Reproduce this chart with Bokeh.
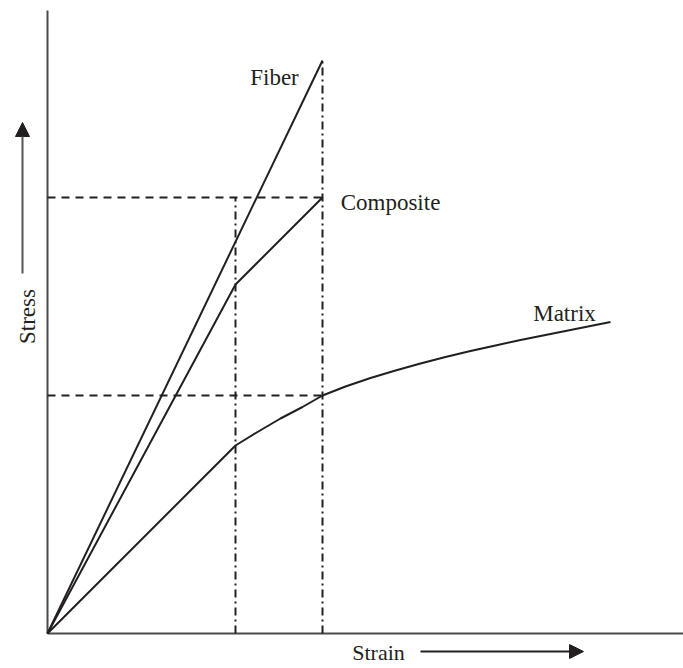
from bokeh.plotting import figure
from bokeh.models import Arrow, NormalHead
from bokeh.core.properties import value
from bokeh.embed import file_html
from bokeh.resources import INLINE
import math

# ---- data (arbitrary strain / stress units) ----
fiber_strain = [0.0, 2.75]
fiber_stress = [0.0, 5.73]

composite_strain = [0.0, 1.88, 2.75]
composite_stress = [0.0, 3.49, 4.36]

matrix_strain = [0.0, 1.88, 2.10, 2.33, 2.55, 2.75, 2.98, 3.23, 3.48, 3.73, 3.98,
                 4.23, 4.48, 4.73, 4.98, 5.23, 5.43, 5.63]
matrix_stress = [0.0, 1.88, 2.015, 2.15, 2.265, 2.38, 2.47, 2.555, 2.63, 2.70, 2.765,
                 2.825, 2.88, 2.935, 2.985, 3.035, 3.075, 3.115]

kink_strain = 1.88          # matrix yield strain
fail_strain = 2.75          # fiber failure strain
composite_peak = 4.36       # composite strength
matrix_at_fail = 2.38       # matrix stress at fiber failure
fiber_peak = 5.73

labels = ["Fiber", "Composite", "Matrix"]
label_x = [2.27, 3.43, 5.17]
label_y = [5.56, 4.31, 3.20]

INK = "#231f20"
FONT = "Liberation Serif"

p = figure(width=683, height=668, x_range=(-0.47, 6.36), y_range=(-0.35, 6.33),
           output_backend="svg", toolbar_location=None, min_border=0)
p.axis.visible = False
p.grid.visible = False
p.outline_line_color = None
p.background_fill_color = "white"
p.border_fill_color = "white"

# axes lines
p.line([0, 0], [0, 6.23], line_color="#4a4a4a", line_width=2)
p.line([0, 6.36], [0, 0], line_color="#4a4a4a", line_width=2)

# dashed horizontals
p.line([0, fail_strain], [composite_peak, composite_peak], line_color=INK, line_width=2, line_dash="8 6")
p.line([0, fail_strain], [matrix_at_fail, matrix_at_fail], line_color=INK, line_width=2, line_dash="8 6")

# dash-dot verticals
p.line([kink_strain, kink_strain], [0, composite_peak], line_color=INK, line_width=2, line_dash="8 4 2 4")
p.line([fail_strain, fail_strain], [0, fiber_peak], line_color=INK, line_width=2, line_dash="8 4 2 4")

# curves
p.line(fiber_strain, fiber_stress, line_color=INK, line_width=2)
p.line(composite_strain, composite_stress, line_color=INK, line_width=2)
p.line(matrix_strain, matrix_stress, line_color=INK, line_width=2, line_join="round")

# labels
p.text(x=label_x, y=label_y, text=labels, text_font=value(FONT), text_font_size="23px",
       text_color=INK, text_align="center", text_baseline="alphabetic")

# axis titles with arrows
p.text(x=[-0.20], y=[3.17], text=["Stress"], angle=math.pi / 2, text_font=value(FONT),
       text_font_size="23px", text_color=INK, text_align="center", text_baseline="alphabetic")
p.add_layout(Arrow(x_start=-0.25, y_start=3.60, x_end=-0.25, y_end=5.11,
                   line_color="#555555", line_width=2,
                   end=NormalHead(size=14, fill_color=INK, line_color=INK)))

p.text(x=[3.31], y=[-0.185], text=["Strain"], text_font=value(FONT),
       text_font_size="22px", text_color=INK, text_align="middle" if False else "center",
       text_baseline="middle")
p.add_layout(Arrow(x_start=3.73, y_start=-0.18, x_end=5.36, y_end=-0.18,
                   line_color=INK, line_width=2,
                   end=NormalHead(size=14, fill_color=INK, line_color=INK)))

open("out.html", "w").write(file_html(p, INLINE))
